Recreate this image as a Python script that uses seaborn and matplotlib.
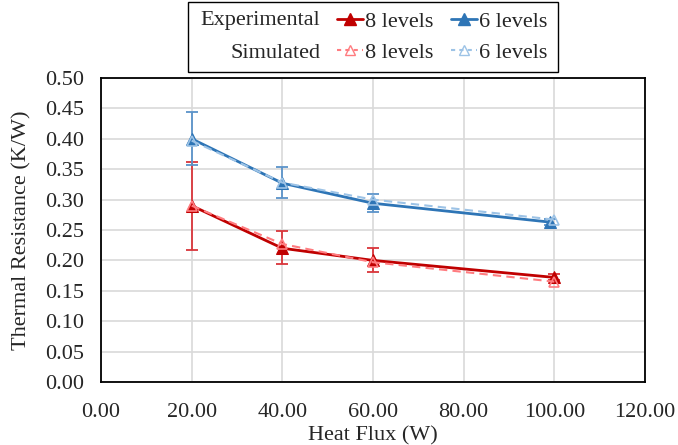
import numpy as np
import pandas as pd
import matplotlib
matplotlib.use("Agg")
import matplotlib.pyplot as plt
import seaborn as sns
from matplotlib.lines import Line2D
from matplotlib.patches import Rectangle

# ---- data ----
x_exp8 = [20, 40, 60, 100]
y_exp8 = [0.290, 0.220, 0.200, 0.172]
lo_exp8 = [0.217, 0.194, 0.181, 0.167]
hi_exp8 = [0.362, 0.248, 0.220, 0.177]

x_exp6 = [20, 40, 60, 99]
y_exp6 = [0.400, 0.327, 0.294, 0.263]
lo_exp6 = [0.357, 0.303, 0.280, 0.258]
hi_exp6 = [0.444, 0.353, 0.309, 0.268]

x_sim8 = [20, 40, 60, 100]
y_sim8 = [0.290, 0.227, 0.197, 0.165]

x_sim6 = [20, 40, 60, 100]
y_sim6 = [0.397, 0.328, 0.300, 0.267]

x_ticks = [0, 20, 40, 60, 80, 100, 120]
y_ticks = [0.00, 0.05, 0.10, 0.15, 0.20, 0.25, 0.30, 0.35, 0.40, 0.45, 0.50]

red = "#C00000"
blue = "#2E75B6"
red_l = "#FF7C80"
blue_l = "#9DC3E6"

sns.set_style("white")
plt.rcParams["font.family"] = ["Liberation Serif", "DejaVu Serif"]
FS = 16

fig = plt.figure(figsize=(6.78, 4.45), dpi=100)
ax = fig.add_axes([101 / 678, 1 - 382 / 445, (645 - 101) / 678, (382 - 78) / 445])

df_s8 = pd.DataFrame({"x": x_sim8, "y": y_sim8})
df_s6 = pd.DataFrame({"x": x_sim6, "y": y_sim6})
df_e8 = pd.DataFrame({"x": x_exp8, "y": y_exp8})
df_e6 = pd.DataFrame({"x": x_exp6, "y": y_exp6})

# error bars
for xs, ys, lo, hi, c in [(x_exp8, y_exp8, lo_exp8, hi_exp8, "#D9353A"),
                          (x_exp6, y_exp6, lo_exp6, hi_exp6, "#5B93C9")]:
    yerr = np.array([np.array(ys) - np.array(lo), np.array(hi) - np.array(ys)])
    ax.errorbar(xs, ys, yerr=yerr, fmt="none", ecolor=c, elinewidth=1.3,
                capsize=4, capthick=1.3, zorder=3)

sns.lineplot(data=df_e8, x="x", y="y", ax=ax, color=red, lw=2.0, marker="^",
             markersize=8, markeredgecolor=red, markerfacecolor=red, zorder=4)
sns.lineplot(data=df_e6, x="x", y="y", ax=ax, color=blue, lw=2.0, marker="^",
             markersize=8, markeredgecolor=blue, markerfacecolor=blue, zorder=4)
sns.lineplot(data=df_s8, x="x", y="y", ax=ax, color=red_l, lw=1.5, marker="^",
             markersize=7, markeredgecolor=red_l, markerfacecolor="none",
             markeredgewidth=1.2, linestyle=(0, (4, 2.5)), zorder=5)
sns.lineplot(data=df_s6, x="x", y="y", ax=ax, color=blue_l, lw=1.5, marker="^",
             markersize=7, markeredgecolor=blue_l, markerfacecolor="none",
             markeredgewidth=1.2, linestyle=(0, (4, 2.5)), zorder=5)

ax.set_xlim(0, 120)
ax.set_ylim(0, 0.5)
ax.set_xticks(x_ticks)
ax.set_xticklabels([f"{v:.2f}" for v in x_ticks], fontsize=FS)
ax.set_yticks(y_ticks)
ax.set_yticklabels([f"{v:.2f}" for v in y_ticks], fontsize=FS)
ax.tick_params(axis="y", length=0, pad=12)
ax.tick_params(axis="x", length=0, pad=15)
ax.grid(True, color="#D9D9D9", lw=1.2)
ax.set_axisbelow(True)
for s in ax.spines.values():
    s.set_visible(True)
    s.set_color("black")
    s.set_linewidth(1.3)

ax.set_xlabel("Heat Flux (W)", fontsize=FS, labelpad=3)
ax.set_ylabel("Thermal Resistance (K/W)", fontsize=FS, labelpad=10)

# legend
handles = [
    Line2D([], [], color=red, lw=2.0, marker="^", markersize=8),
    Line2D([], [], color=red_l, lw=1.5, marker="^", markersize=7,
           markerfacecolor="none", linestyle=(0, (2, 2))),
    Line2D([], [], color=blue, lw=2.0, marker="^", markersize=8),
    Line2D([], [], color=blue_l, lw=1.5, marker="^", markersize=7,
           markerfacecolor="none", linestyle=(0, (2, 2))),
]
labels = ["8 levels", "8 levels", "6 levels", "6 levels"]
leg = fig.legend(handles, labels, ncol=2, frameon=False, fontsize=FS,
                 loc="center left", bbox_to_anchor=(326 / 678, 1 - 37 / 445),
                 handlelength=1.15, handletextpad=0.1, columnspacing=0.8,
                 labelspacing=0.45, borderpad=0)
fig.text(320 / 678, 1 - 20 / 445, "Experimental", ha="right", va="center", fontsize=FS)
fig.text(320 / 678, 1 - 53 / 445, "Simulated", ha="right", va="center", fontsize=FS)
fig.patches.append(Rectangle((188 / 678, 1 - 72 / 445), (558 - 188) / 678, 70 / 445,
                             transform=fig.transFigure, fill=False, ec="black", lw=1.0))

fig.savefig("out.png", dpi=100)
